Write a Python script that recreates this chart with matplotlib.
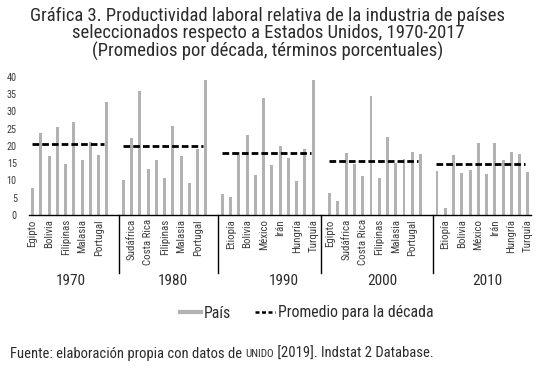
import matplotlib
matplotlib.use('Agg')
import matplotlib.pyplot as plt
from matplotlib.lines import Line2D

plt.rcParams['font.family'] = ['Roboto Condensed', 'Roboto', 'DejaVu Sans']

# datos
decades = ['1970', '1980', '1990', '2000', '2010']

labels_1970 = ['Egipto', '', 'Bolivia', '', 'Filipinas', '', 'Malasia', '', 'Portugal', '']
vals_1970 = [7.9, 23.8, 17.1, 25.5, 14.7, 27.0, 15.9, 21.0, 17.3, 32.8]

labels_1980 = ['', 'Sudáfrica', '', 'Costa Rica', '', 'Filipinas', '', 'Malasia', '', 'Portugal', '']
vals_1980 = [10.1, 22.2, 35.9, 13.3, 15.9, 10.6, 25.8, 17.2, 9.3, 19.0, 39.0]

labels_1990 = ['', 'Etiopía', '', 'Bolivia', '', 'México', '', 'Irán', '', 'Hungría', '', 'Turquía']
vals_1990 = [6.0, 5.3, 18.3, 23.1, 11.6, 33.7, 14.5, 20.0, 16.6, 9.8, 19.0, 39.0]

labels_2000 = ['Egipto', '', 'Sudáfrica', '', 'Costa Rica', '', 'Filipinas', '', 'Malasia', '', 'Portugal', '']
vals_2000 = [6.3, 4.0, 18.0, 14.7, 11.3, 34.4, 10.6, 22.5, 14.9, 16.2, 18.3, 17.6]

labels_2010 = ['', 'Etiopía', '', 'Bolivia', '', 'México', '', 'Irán', '', 'Hungría', '', 'Turquía']
vals_2010 = [12.8, 1.9, 17.3, 12.2, 12.9, 20.7, 11.9, 20.7, 15.9, 18.3, 17.6, 12.5]

averages = [20.4, 19.95, 18.0, 15.6, 14.65]

all_labels = [labels_1970, labels_1980, labels_1990, labels_2000, labels_2010]
all_vals = [vals_1970, vals_1980, vals_1990, vals_2000, vals_2010]

bar_color = '#b2b2b2'
text_color = '#2b2b2b'
tick_color = '#3c3c3c'

fig = plt.figure(figsize=(5.37, 3.83), dpi=100)
ax = fig.add_axes([0.0546, 0.4386, 0.9344, 0.3611])

xs_all = []
ticklabels = []
start = 0
for i in range(len(decades)):
    xs = list(range(start, start + len(all_vals[i])))
    ax.bar(xs, all_vals[i], width=0.36, color=bar_color, zorder=2)
    ax.plot([xs[0] - 0.1, xs[-1] - 0.3], [averages[i], averages[i]], color='black',
            lw=2.0, dashes=(2.4, 1.1), zorder=3)
    xs_all += xs
    ticklabels += all_labels[i]
    start = xs[-1] + 2

ax.set_xticks(xs_all)
ax.set_xticklabels(ticklabels, rotation=90, fontsize=7.8, color=tick_color)
ax.set_xlim(-0.4, 60.4)
ax.set_ylim(0, 40)
ax.set_yticks(range(0, 41, 5))
ax.tick_params(axis='y', length=0, pad=9, labelsize=7.3, labelcolor=tick_color)
ax.tick_params(axis='x', length=0, pad=3)
for s in ['top', 'right', 'left']:
    ax.spines[s].set_visible(False)
ax.spines['bottom'].set_linewidth(1.0)

# separadores entre decadas y etiquetas de decada
sep_pos = [10.5, 22.5, 35.0, 48.5]
for sx in sep_pos:
    ax.plot([sx, sx], [0, -16.8], color='black', lw=1.0, clip_on=False)
dec_pos = [4.6, 17.0, 30.4, 42.4, 55.1]
for d, px in zip(decades, dec_pos):
    ax.text(px, -19.0, d, ha='center', va='center', fontsize=11, color=text_color)

# titulo
title_lines = ['Gráfica 3. Productividad laboral relativa de la industria de países',
               'seleccionados respecto a Estados Unidos, 1970-2017',
               '(Promedios por década, términos porcentuales)']
for line, py in zip(title_lines, [16, 33.5, 51]):
    fig.text(0.499, 1 - py / 383, line, ha='center', va='center', fontsize=13.4, color=text_color)

# leyenda
handles = [Line2D([], [], color=bar_color, lw=3),
           Line2D([], [], color='black', lw=1.8, dashes=(1.6, 1.0))]
leg = fig.legend(handles, ['País', 'Promedio para la década'], loc='center',
                 bbox_to_anchor=(307 / 537, 1 - 313 / 383), ncol=2, frameon=False,
                 fontsize=11.3, handlelength=1.3, handletextpad=0.2, columnspacing=1.5)
for t in leg.get_texts():
    t.set_color(text_color)

# fuente, con UNIDO en versalitas
renderer = fig.canvas.get_renderer()
fy = 1 - 354 / 383
t1 = fig.text(10 / 537, fy, 'Fuente: elaboración propia con datos de ', ha='left', va='center',
              fontsize=10.5, color=text_color)
bb = t1.get_window_extent(renderer)
t2 = fig.text(bb.x1 / fig.bbox.width, fy, 'UNIDO', ha='left', va='center',
              fontsize=7.9, color=text_color)
bb = t2.get_window_extent(renderer)
fig.text(bb.x1 / fig.bbox.width, fy, ' [2019]. Indstat 2 Database.', ha='left', va='center',
         fontsize=10.5, color=text_color)

fig.savefig('out.png', dpi=100)
